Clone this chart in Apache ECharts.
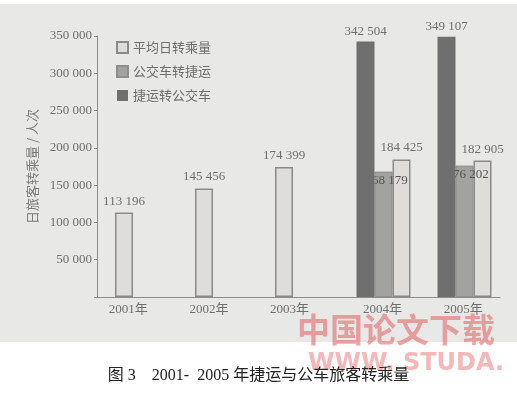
<!DOCTYPE html>
<html>
<head>
<meta charset="utf-8">
<title>2001-2005 年捷运与公车旅客转乘量</title>
<script src="https://cdn.jsdelivr.net/npm/echarts@6/dist/echarts.min.js"></script>
<style>
    html, body { margin: 0; padding: 0; background: #fff; }
    #chart { width: 517px; height: 397px; }
</style>
</head>
<body>
<div id="chart"></div>
<script>
// dados
var years = ['2001年', '2002年', '2003年', '2004年', '2005年'];
var avgDaily = [113196, 145456, 174399, 184425, 182905];     // 平均日转乘量
var busToMetro = [null, null, null, 168179, 176202];         // 公交车转捷运
var metroToBus = [null, null, null, 342504, 349107];         // 捷运转公交车
var yTicks = [0, 50000, 100000, 150000, 200000, 250000, 300000, 350000];

var serif = '"Liberation Serif", "Noto Sans CJK SC", serif';
var cjk = '"Noto Sans CJK SC", sans-serif';
var textGray = '#6e6e6e';
var axisGray = '#8c8c8c';

function fmt(v) {
    return String(v).replace(/\B(?=(\d{3})+(?!\d))/g, ' ');
}

// anos so com a media / anos com os tres valores
var avgAlone = avgDaily.map(function(v, i) { return metroToBus[i] == null ? v : null; });
var avgGroup = avgDaily.map(function(v, i) { return metroToBus[i] == null ? null : v; });

var lightStyle = { color: '#deddda', borderColor: '#8a8a8a', borderWidth: 1.5 };
var midStyle = { color: '#a2a2a0', borderColor: '#8e8e8e', borderWidth: 1 };
var darkStyle = { color: '#6f6f6f' };

var barLabel = function(pos, dist) {
    return {
        show: true,
        position: pos,
        distance: dist,
        color: textGray,
        fontFamily: serif,
        fontSize: 13,
        formatter: function(p) { return fmt(p.value); }
    };
};

var gridTop = 36, gridBottom = 100;

var option = {
    animation: false,
    backgroundColor: '#ffffff',
    graphic: [
        {
            type: 'rect', z: -10, silent: true,
            shape: { x: 0, y: 4, width: 517, height: 338 },
            style: { fill: '#e8e8e6' }
        },
        {
            type: 'text', z: 100, silent: true,
            left: 297, top: 313,
            style: {
                text: '中国论文下载',
                font: 'bold 33px "Noto Sans CJK SC"',
                fill: 'rgba(228, 110, 112, 0.62)'
            }
        },
        {
            type: 'text', z: 100, silent: true,
            left: 308, top: 352,
            style: {
                text: 'WWW. STUDA.',
                font: 'bold 24px "DejaVu Sans"',
                fill: 'rgba(240, 160, 162, 0.75)'
            }
        },
        {
            type: 'text', z: 100, silent: true,
            left: 'center', top: 368,
            style: {
                text: '图 3    2001-  2005 年捷运与公车旅客转乘量',
                font: '16px "Liberation Serif", "Noto Sans CJK SC"',
                fill: '#222222'
            }
        }
    ],
    legend: {
        orient: 'vertical',
        left: 111,
        top: 36,
        itemWidth: 11,
        itemHeight: 11,
        itemGap: 11,
        icon: 'rect',
        textStyle: { color: textGray, fontFamily: cjk, fontSize: 13 },
        data: ['平均日转乘量', '公交车转捷运', '捷运转公交车']
    },
    grid: [
        { left: 97, right: 17, top: gridTop, bottom: gridBottom },   // eixos visiveis
        { left: 84, right: 33, top: gridTop, bottom: gridBottom },   // barras sozinhas
        { left: 100, right: 12, top: gridTop, bottom: gridBottom }   // grupos 2004-2005
    ],
    xAxis: [
        {
            gridIndex: 0,
            type: 'category',
            data: years,
            axisLine: { lineStyle: { color: axisGray, width: 1 } },
            axisTick: { show: false },
            axisLabel: {
                margin: 6,
                color: textGray,
                fontFamily: serif,
                fontSize: 13,
                formatter: function(v, i) {
                    return i < 3 ? '{a|' + v + '}' : '{b|' + v + '}';
                },
                rich: {
                    a: { padding: [0, 18, 0, 0], color: textGray, fontFamily: serif, fontSize: 13 },
                    b: { padding: [0, 0, 0, 7], color: textGray, fontFamily: serif, fontSize: 13 }
                }
            }
        },
        { gridIndex: 1, type: 'category', data: years, show: false },
        { gridIndex: 2, type: 'category', data: years, show: false }
    ],
    yAxis: [
        {
            gridIndex: 0,
            type: 'value',
            min: yTicks[0],
            max: yTicks[yTicks.length - 1],
            interval: yTicks[1] - yTicks[0],
            name: '日旅客转乘量 / 人次',
            nameLocation: 'middle',
            nameRotate: 90,
            nameGap: 58,
            nameTextStyle: { color: '#7a7a7a', fontFamily: cjk, fontSize: 13 },
            axisLine: { show: true, lineStyle: { color: axisGray, width: 1 } },
            axisTick: { show: true, length: 3, lineStyle: { color: axisGray } },
            splitLine: { show: false },
            axisLabel: {
                margin: 5,
                color: textGray,
                fontFamily: serif,
                fontSize: 13,
                formatter: function(v) { return v === 0 ? '' : fmt(v); }
            }
        },
        { gridIndex: 1, type: 'value', min: 0, max: 350000, show: false },
        { gridIndex: 2, type: 'value', min: 0, max: 350000, show: false }
    ],
    series: [
        {
            name: '平均日转乘量',
            type: 'bar',
            xAxisIndex: 1, yAxisIndex: 1,
            barWidth: 18,
            itemStyle: lightStyle,
            label: barLabel('top', 5),
            data: avgAlone
        },
        {
            name: '捷运转公交车',
            type: 'bar',
            z: 3,
            xAxisIndex: 2, yAxisIndex: 2,
            barWidth: 18, barGap: 0,
            itemStyle: darkStyle,
            label: barLabel('top', 4),
            data: metroToBus
        },
        {
            name: '公交车转捷运',
            type: 'bar',
            xAxisIndex: 2, yAxisIndex: 2,
            barWidth: 18, barGap: 0,
            itemStyle: midStyle,
            label: Object.assign(barLabel('insideTop', 2), { color: '#555555', offset: [3, 0] }),
            data: busToMetro
        },
        {
            name: '平均日转乘量',
            type: 'bar',
            xAxisIndex: 2, yAxisIndex: 2,
            barWidth: 18, barGap: 0,
            itemStyle: lightStyle,
            label: barLabel('top', 5),
            data: avgGroup
        }
    ]
};

var myChart = echarts.init(document.getElementById('chart'));
myChart.setOption(option);
</script>
</body>
</html>
